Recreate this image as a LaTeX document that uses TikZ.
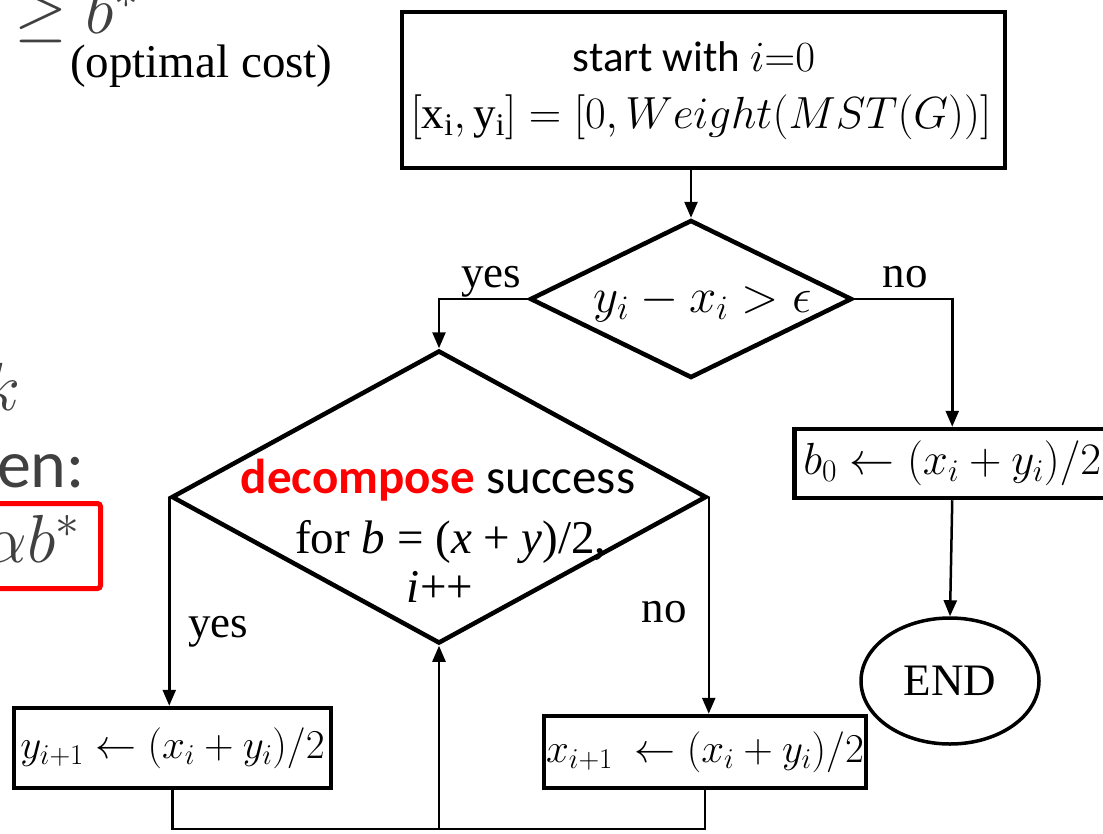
\RequirePackage{fix-cm}
\documentclass[tikz,border=0pt]{standalone}
\usepackage{fontspec}
\setmainfont{Liberation Serif}
\newfontfamily\calibri{Carlito}
\newfontfamily\tnr{Liberation Serif}
\usetikzlibrary{shapes.geometric,arrows.meta}
\definecolor{slidegray}{RGB}{64,64,64}
\newcommand\fs{\fontsize{45}{55}\selectfont}
\newcommand\fm{\fontsize{41}{50}\selectfont}
\newcommand\fb{\fontsize{68}{80}\selectfont}
\tikzset{
 box/.style={draw, line width=4.5pt, inner sep=0pt, font=\fs},
 dia/.style={draw, diamond, line width=4.5pt, inner sep=0pt},
 conn/.style={line width=2.5pt},
 arr/.style={line width=2.5pt, -{Triangle[length=16pt,width=13pt]}},
 lbl/.style={font=\fs\tnr, inner sep=0pt},
 slide/.style={inner sep=0pt, text=slidegray, font=\fb},
}
\begin{document}
\begin{tikzpicture}[x=1pt,y=-1pt]
\useasboundingbox (0,0) rectangle (1103,833);
\clip (0,0) rectangle (1103,833);
\fill[white] (0,0) rectangle (1103,833);

% left slide text (partly cut off)
\node[slide, anchor=base west] (geq) at (14,33) {$\geq b^{*}$};
\node[lbl, anchor=base west, font=\fontsize{47}{55}\selectfont\tnr] (opt) at (70,77) {(optimal cost)};
\node[slide, anchor=base east] (k) at (21,410) {$k$};
\node[slide, anchor=base east, font=\fb\calibri] (en) at (85,487) {en:};
\node[draw=red, line width=5pt, rounded corners=3pt, inner sep=0pt, minimum width=150, minimum height=85, anchor=east] (res) at (103,546) {};
\node[slide, anchor=base east] (ab) at (80,562) {$\alpha b^{*}$};

% flowchart
\node[box, minimum width=603, minimum height=156] (start) at (703.5,90) {};
\node[lbl, font=\fontsize{43}{50}\selectfont\calibri] (st1) at (694,57) {start with $i{=}0$};
\node[lbl] (st2) at (701,117) {$[\mathrm{x_i},\mathrm{y_i}]=\bigl[0, Weight\bigl(MST(G)\bigr)\bigr]$};
\node[dia, minimum width=322, minimum height=158] (d1) at (691,299) {};
\node[lbl, font=\fontsize{49}{55}\selectfont] (d1t) at (703,303) {$y_i - x_i > \epsilon$};
\node[dia, minimum width=535, minimum height=293] (d2) at (439,497) {};
\node[lbl, anchor=base, font=\fontsize{49}{55}\selectfont\calibri] (d2a) at (438,493) {\textcolor{red}{\textbf{decompose}} success};
\node[lbl, anchor=base, font=\fontsize{47}{55}\selectfont\tnr] (d2b) at (451,553) {for \textit{b} = (\textit{x} + \textit{y})/2,};
\node[lbl, anchor=base, font=\fontsize{47}{55}\selectfont\tnr] (d2c) at (440,602) {\textit{i}++};
\node[box, minimum width=316, minimum height=69, anchor=west] (b0) at (792,463.5) {$b_0 \leftarrow (x_i+y_i)/2$};
\node[draw, ellipse, line width=3.5pt, minimum width=178, minimum height=126, inner sep=0pt, font=\fs\tnr] (end) at (950,681) {END};
\node[box, minimum width=317, minimum height=80, font=\fm] (ybox) at (172.5,748) {$y_{i+1} \leftarrow (x_i+y_i)/2$};
\node[box, minimum width=322, minimum height=72, font=\fm] (xbox) at (705,752) {$x_{i+1}\ \leftarrow (x_i+y_i)/2$};

\node[lbl, anchor=base] (yes1) at (491,287) {yes};
\node[lbl, anchor=base] (no1) at (905,287) {no};
\node[lbl, anchor=base] (yes2) at (218,637) {yes};
\node[lbl, anchor=base] (no2) at (664,622) {no};

\draw[arr] (start.south -| d1.north) -- (d1.north);
\draw[arr] (d1.west) -| (d2.north);
\draw[arr] (d1.east) -| (b0.north);
\draw[arr] (d2.west) -- (d2.west |- ybox.north);
\draw[arr] (d2.east) -- (d2.east |- xbox.north);
\draw[arr] (b0.south) -- (end.north);
\coordinate (loop) at (439,829);
\draw[conn] (ybox.south) |- (loop);
\draw[arr] (xbox.south) |- (loop) -- (d2.south);
\end{tikzpicture}
\end{document}
